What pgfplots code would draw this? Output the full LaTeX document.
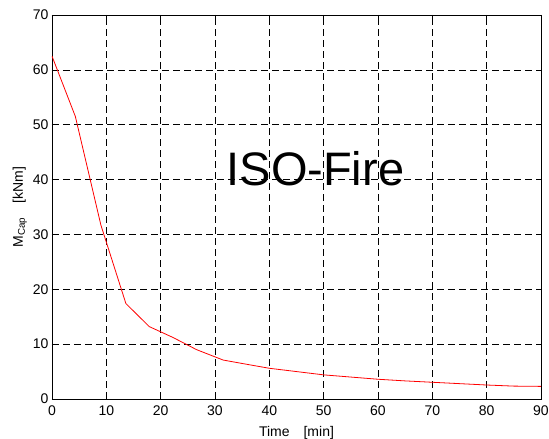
\documentclass[border=0pt]{standalone}
\usepackage{pgfplots}
\pgfplotsset{compat=1.18}
\usepackage{fontspec}
\setmainfont{Liberation Sans}
\begin{document}
\begin{tikzpicture}
\path[use as bounding box] (-52pt,-40pt) rectangle (497pt,399pt);
\begin{axis}[
  at={(0,0)}, anchor=origin,
  scale only axis, width=489pt, height=384pt,
  xmin=0, xmax=90, ymin=0, ymax=70,
  xtick={0,10,...,90}, ytick={0,10,...,70},
  grid=major,
  major grid style={black, line width=0.5pt, dash pattern=on 7pt off 4pt},
  axis line style={black, line width=0.6pt},
  tick style={black, line width=0.5pt},
  tick align=inside,
  major tick length=5pt,
  /pgf/number format/assume math mode=true,
  ticklabel style={font=\fontsize{14}{16}\selectfont},
  xticklabel style={yshift=-3pt},
  yticklabel style={xshift=0pt},
  label style={font=\fontsize{14}{16}\selectfont},
  xlabel={Time\quad[min]},
  ylabel={M$_{\mathrm{Cap}}$\quad[kNm]},
  xlabel style={yshift=-4pt},
  ylabel style={yshift=-1pt},
  clip=true,
]
\addplot[red, line width=0.8pt] coordinates {
(0,62.5) (4.3,51.5) (9,31.7) (13.6,17.4) (17.9,13.2) (22.3,11.2) (26.6,9.0)
(31.5,7.1) (36,6.3) (40,5.6) (45,5.0) (50,4.4) (55,4.0) (60,3.6) (65,3.3)
(70,3.05) (75,2.8) (80,2.55) (85,2.35) (90,2.3)
};
\node[anchor=base west, inner sep=0pt, font=\fontsize{47}{50}\selectfont] at (axis cs:32.1,39) {ISO-Fire};
\end{axis}
\end{tikzpicture}
\end{document}
